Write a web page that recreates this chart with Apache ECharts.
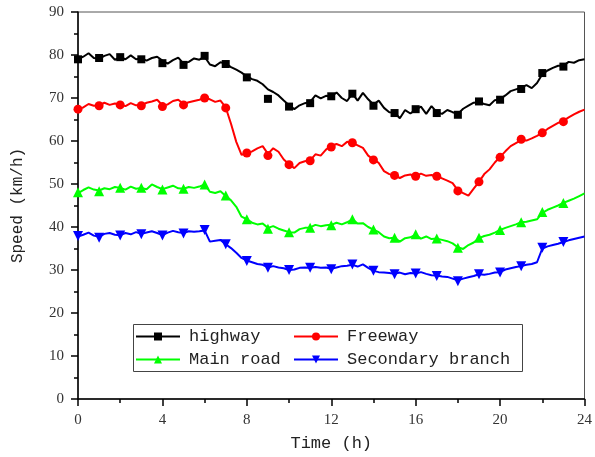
<!DOCTYPE html>
<html>
<head>
<meta charset="utf-8">
<script src="https://cdn.jsdelivr.net/npm/echarts@6/dist/echarts.min.js"></script>
<style>
    html, body {margin: 0; padding: 0; background: #fff;}
    #graph {width: 595px; height: 457px;}
</style>
</head>
<body>
<div id="graph"></div>
<script>
// sampled every 15 min, 0h .. 24h
var step = 0.25;

var highway = [
    79.0, 79.6, 80.4, 79.3, 79.1, 79.8, 80.2, 78.9, 79.5, 79.0, 79.9, 79.0,
    79.2, 78.7, 79.3, 79.6, 78.7, 78.0, 78.8, 79.4, 78.0, 78.4, 79.2, 78.9,
    79.6, 77.8, 77.4, 78.3, 78.0, 77.2, 76.6, 75.9, 75.0, 74.4, 74.0, 73.2,
    72.0, 71.4, 70.6, 69.4, 68.3, 67.4, 68.3, 68.8, 69.1, 70.6, 69.9, 70.5,
    70.3, 71.3, 70.0, 69.3, 71.0, 69.4, 71.2, 69.7, 68.5, 69.4, 67.7, 66.7,
    66.6, 65.3, 67.2, 66.4, 67.3, 68.0, 66.3, 68.1, 66.7, 66.3, 67.2, 66.7,
    66.3, 67.5, 68.2, 68.9, 69.0, 68.6, 68.3, 69.5, 69.7, 70.6, 71.6, 72.0,
    72.4, 73.0, 72.3, 73.5, 75.5, 76.4, 77.0, 77.5, 77.5, 78.4, 78.2, 78.8,
    79.0
];
var freeway = [
    67.5, 67.8, 68.6, 68.2, 68.3, 68.9, 68.4, 68.7, 68.5, 68.1, 68.8, 68.3,
    68.3, 68.9, 69.2, 69.6, 68.3, 68.5, 69.3, 69.6, 68.6, 69.0, 69.3, 69.6,
    70.0, 69.7, 69.1, 69.4, 67.8, 64.0, 59.8, 56.8, 57.1, 57.6, 58.3, 58.8,
    57.0, 58.3, 57.5, 55.7, 54.6, 53.7, 54.9, 55.3, 55.5, 56.9, 56.6, 58.0,
    58.9, 59.3, 58.8, 59.8, 59.6, 59.0, 58.4, 56.6, 55.7, 54.9, 53.0, 52.3,
    52.0, 51.4, 52.0, 52.2, 51.8, 52.4, 51.9, 52.1, 51.8, 51.3, 50.8, 50.2,
    48.5, 47.9, 47.3, 48.9, 50.5, 52.3, 53.4, 55.0, 56.3, 57.6, 58.8, 59.5,
    60.2, 60.1, 60.6, 61.2, 61.9, 62.8, 63.5, 64.2, 64.7, 65.5, 66.2, 66.8,
    67.3
];
var mainRoad = [
    47.9, 48.6, 49.2, 48.7, 48.5, 49.0, 48.8, 49.3, 49.1, 48.7, 49.4, 48.9,
    49.1, 48.8, 49.9, 49.3, 48.8, 49.2, 49.6, 49.0, 48.9, 49.3, 49.1, 49.4,
    49.9, 48.2, 47.9, 48.3, 47.2, 46.2, 44.7, 42.4, 41.8, 41.0, 40.6, 40.8,
    39.8, 40.2, 39.6, 39.2, 38.8, 38.7, 39.5, 39.8, 39.9, 40.5, 40.2, 40.4,
    40.5, 41.0, 40.6, 41.1, 41.8, 40.8, 40.9, 40.0, 39.4, 38.8, 37.8, 37.4,
    37.5, 36.6, 37.4, 37.6, 38.2, 37.3, 37.8, 37.2, 37.3, 37.0, 36.7, 36.2,
    35.3, 34.9, 35.8, 36.4, 37.4, 37.9, 38.2, 38.7, 39.3, 39.8, 40.2, 40.6,
    41.1, 41.2, 41.5, 41.8, 43.3, 44.0, 44.5, 45.0, 45.6, 46.1, 46.6, 47.2,
    47.8
];
var secondary = [
    37.8, 38.2, 38.7, 38.0, 37.7, 38.4, 38.6, 38.2, 38.1, 38.6, 38.3, 38.8,
    38.4, 38.7, 39.0, 38.6, 38.1, 38.7, 39.1, 38.8, 38.6, 39.0, 38.9, 39.0,
    39.2, 36.6, 36.8, 37.0, 36.0, 35.1, 34.0, 32.8, 32.2, 31.8, 31.4, 31.2,
    30.6, 30.9, 30.6, 30.4, 30.0, 30.1, 30.5, 30.6, 30.5, 30.7, 30.5, 30.6,
    30.3, 30.6, 30.9, 31.0, 31.2, 30.8, 31.3, 30.5, 29.8, 29.5, 29.4, 29.3,
    29.1, 29.4, 29.0, 29.3, 29.2, 29.5, 29.1, 28.8, 28.7, 28.5, 28.4, 28.0,
    27.6, 28.0, 28.3, 28.6, 29.0, 28.9, 29.1, 29.4, 29.5, 30.1, 30.4, 30.7,
    30.9, 31.2, 31.4, 31.8, 35.0, 35.5, 35.8, 36.1, 36.5, 36.9, 37.2, 37.5,
    37.8
];

// hourly marker values, 0h .. 23h
var highwayMk = [79.0, 79.3, 79.5, 79.0, 78.1, 77.7, 79.8, 77.9, 74.8, 69.8, 68.0, 68.8,
    70.4, 71.0, 68.2, 66.5, 67.4, 66.5, 66.1, 69.2, 69.6, 72.1, 75.8, 77.3];
var freewayMk = [67.4, 68.2, 68.4, 68.2, 68.0, 68.4, 70.0, 67.7, 57.2, 56.6, 54.5, 55.4,
    58.6, 59.6, 55.6, 52.0, 51.8, 51.8, 48.4, 50.5, 56.2, 60.4, 61.9, 64.5];
var mainRoadMk = [48.1, 48.3, 49.1, 49.1, 48.7, 48.9, 49.9, 47.3, 41.8, 39.6, 38.8, 39.8,
    40.4, 41.8, 39.4, 37.5, 38.3, 37.3, 35.2, 37.5, 39.3, 41.1, 43.5, 45.6];
var secondaryMk = [37.9, 37.5, 38.0, 38.3, 38.0, 38.5, 39.3, 36.0, 32.1, 30.5, 30.0, 30.5,
    30.2, 31.3, 29.8, 29.0, 29.2, 28.6, 27.4, 29.0, 29.4, 30.9, 35.2, 36.5];

var names = ['highway', 'Freeway', 'Main road', 'Secondary branch'];
var colors = ['#000000', '#ff0000', '#00ff00', '#0000ff'];
var symbols = ['rect', 'circle', 'triangle', 'triangle'];
var rotates = [0, 0, 0, 180];
var sizes = [8, 9, 10, 10];

function pairs(vals, dx) {
    return vals.map(function (v, i) {
        return [i * dx, v];
    });
}

var lines = [highway, freeway, mainRoad, secondary];
var marks = [highwayMk, freewayMk, mainRoadMk, secondaryMk];

var series = [];
names.forEach(function (name, k) {
    series.push({
        name: name,
        type: 'line',
        data: pairs(lines[k], step),
        symbol: symbols[k],
        symbolRotate: rotates[k],
        showSymbol: false,
        color: colors[k],
        lineStyle: {width: 2, color: colors[k]},
        z: 3
    });
});
names.forEach(function (name, k) {
    series.push({
        name: name,
        type: 'scatter',
        data: pairs(marks[k], 1),
        symbol: symbols[k],
        symbolRotate: rotates[k],
        symbolSize: sizes[k],
        itemStyle: {color: colors[k], opacity: 1},
        z: 4
    });
});

var monoFont = '"Liberation Mono", monospace';
var numFont = '"Liberation Serif", serif';

var legendBase = {
    orient: 'vertical',
    itemWidth: 44,
    itemHeight: 10,
    itemGap: 6,
    z: 10,
    textStyle: {fontFamily: monoFont, fontSize: 17, color: '#222', padding: [0, 0, 0, 4]},
    padding: 0
};

var chart = echarts.init(document.getElementById('graph'));
chart.setOption({
    animation: false,
    backgroundColor: '#fff',
    grid: {left: 78, right: 7, top: 12, bottom: 57, show: true, borderColor: '#555', borderWidth: 1},
    legend: [
        Object.assign({left: 135, top: 328, data: ['highway', 'Main road']}, legendBase),
        Object.assign({left: 293, top: 328, data: ['Freeway', 'Secondary branch']}, legendBase)
    ],
    graphic: [{
        type: 'rect',
        shape: {x: 133.5, y: 324.5, width: 389, height: 47},
        style: {fill: '#fff', stroke: '#444', lineWidth: 1},
        z: 1
    }],
    xAxis: {
        type: 'value', min: 0, max: 24, interval: 4,
        name: 'Time (h)', nameLocation: 'middle', nameGap: 36,
        nameTextStyle: {fontFamily: monoFont, fontSize: 17, color: '#222'},
        axisLine: {lineStyle: {color: '#000', width: 1.5}},
        axisTick: {inside: false, length: 7, lineStyle: {color: '#000', width: 1.5}},
        minorTick: {show: true, splitNumber: 2, length: 4, lineStyle: {color: '#000', width: 1.5}},
        axisLabel: {fontFamily: numFont, fontSize: 15, color: '#333', margin: 14},
        splitLine: {show: false}
    },
    yAxis: {
        type: 'value', min: 0, max: 90, interval: 10,
        name: 'Speed (km/h)', nameLocation: 'middle', nameGap: 52,
        nameTextStyle: {fontFamily: monoFont, fontSize: 16, color: '#222'},
        axisLine: {show: true, lineStyle: {color: '#000', width: 1.5}},
        axisTick: {show: true, inside: false, length: 7, lineStyle: {color: '#000', width: 1.5}},
        minorTick: {show: true, splitNumber: 2, length: 4, lineStyle: {color: '#000', width: 1.5}},
        axisLabel: {fontFamily: numFont, fontSize: 15, color: '#333', margin: 14},
        splitLine: {show: false}
    },
    series: series
});
</script>
</body>
</html>
